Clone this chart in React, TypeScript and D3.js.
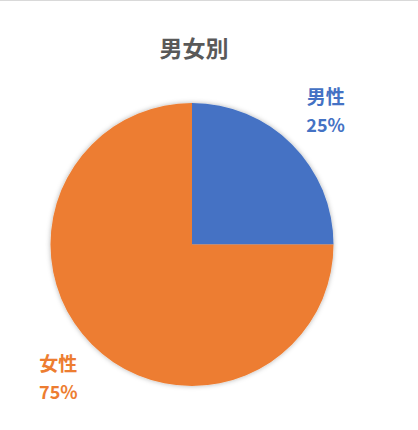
import React, { useEffect, useRef } from 'react';
import * as d3 from 'd3';

const categories = ['男性', '女性'];
const values = [25, 75];
const colors = ['#4472C4', '#ED7D31'];
const title = '男女別';

const W = 418;
const H = 430;

const App: React.FC = () => {
  const svgRef = useRef<SVGSVGElement>(null);

  useEffect(() => {
    if (!svgRef.current) return;
    const svg = d3.select(svgRef.current);
    svg.selectAll('*').remove();

    const font = '"Noto Sans CJK JP", "Noto Sans", sans-serif';
    const cx = 192;
    const cy = 244.5;
    const radius = 141.5;

    // soft shadow like Excel's default pie
    const defs = svg.append('defs');
    const filter = defs.append('filter')
      .attr('id', 'pie-shadow')
      .attr('x', '-20%').attr('y', '-20%')
      .attr('width', '140%').attr('height', '140%');
    filter.append('feDropShadow')
      .attr('dx', 0).attr('dy', 0)
      .attr('stdDeviation', 2.5)
      .attr('flood-color', '#000')
      .attr('flood-opacity', 0.3);

    svg.append('rect')
      .attr('width', W).attr('height', H)
      .attr('fill', '#fff');
    svg.append('line')
      .attr('x1', 0).attr('x2', W)
      .attr('y1', 0.5).attr('y2', 0.5)
      .attr('stroke', '#d9d9d9');

    svg.append('text')
      .attr('x', 194)
      .attr('y', 57)
      .attr('text-anchor', 'middle')
      .attr('font-family', font)
      .attr('font-weight', 700)
      .attr('font-size', 23)
      .attr('fill', '#595959')
      .text(title);

    const data = categories.map((c, i) => ({ name: c, value: values[i], color: colors[i] }));
    const pie = d3.pie<typeof data[number]>()
      .sort(null)
      .value(d => d.value);
    const arcs = pie(data);

    const arc = d3.arc<d3.PieArcDatum<typeof data[number]>>()
      .innerRadius(0)
      .outerRadius(radius);
    const labelArc = d3.arc<d3.PieArcDatum<typeof data[number]>>()
      .innerRadius(189)
      .outerRadius(189);

    const g = svg.append('g')
      .attr('transform', `translate(${cx},${cy})`);

    g.append('g')
      .attr('filter', 'url(#pie-shadow)')
      .selectAll('path')
      .data(arcs)
      .enter()
      .append('path')
      .attr('d', arc)
      .attr('fill', d => d.data.color);

    const totals = d3.sum(values);
    const labels = g.selectAll('.label')
      .data(arcs)
      .enter()
      .append('g')
      .attr('class', 'label')
      .attr('transform', d => `translate(${labelArc.centroid(d)})`);

    labels.append('text')
      .attr('y', -7)
      .attr('text-anchor', 'middle')
      .attr('font-family', font)
      .attr('font-weight', 700)
      .attr('font-size', 19)
      .attr('fill', d => d.data.color)
      .text(d => d.data.name);

    labels.append('text')
      .attr('y', 21)
      .attr('text-anchor', 'middle')
      .attr('font-family', font)
      .attr('font-weight', 700)
      .attr('font-size', 18)
      .attr('fill', d => d.data.color)
      .text(d => `${Math.round((d.data.value / totals) * 100)}%`);
  }, []);

  return (
    <div style={{ position: 'fixed', left: 0, top: 0 }}>
      <svg ref={svgRef} width={W} height={H} style={{ display: 'block' }} />
    </div>
  );
};

export default App;
